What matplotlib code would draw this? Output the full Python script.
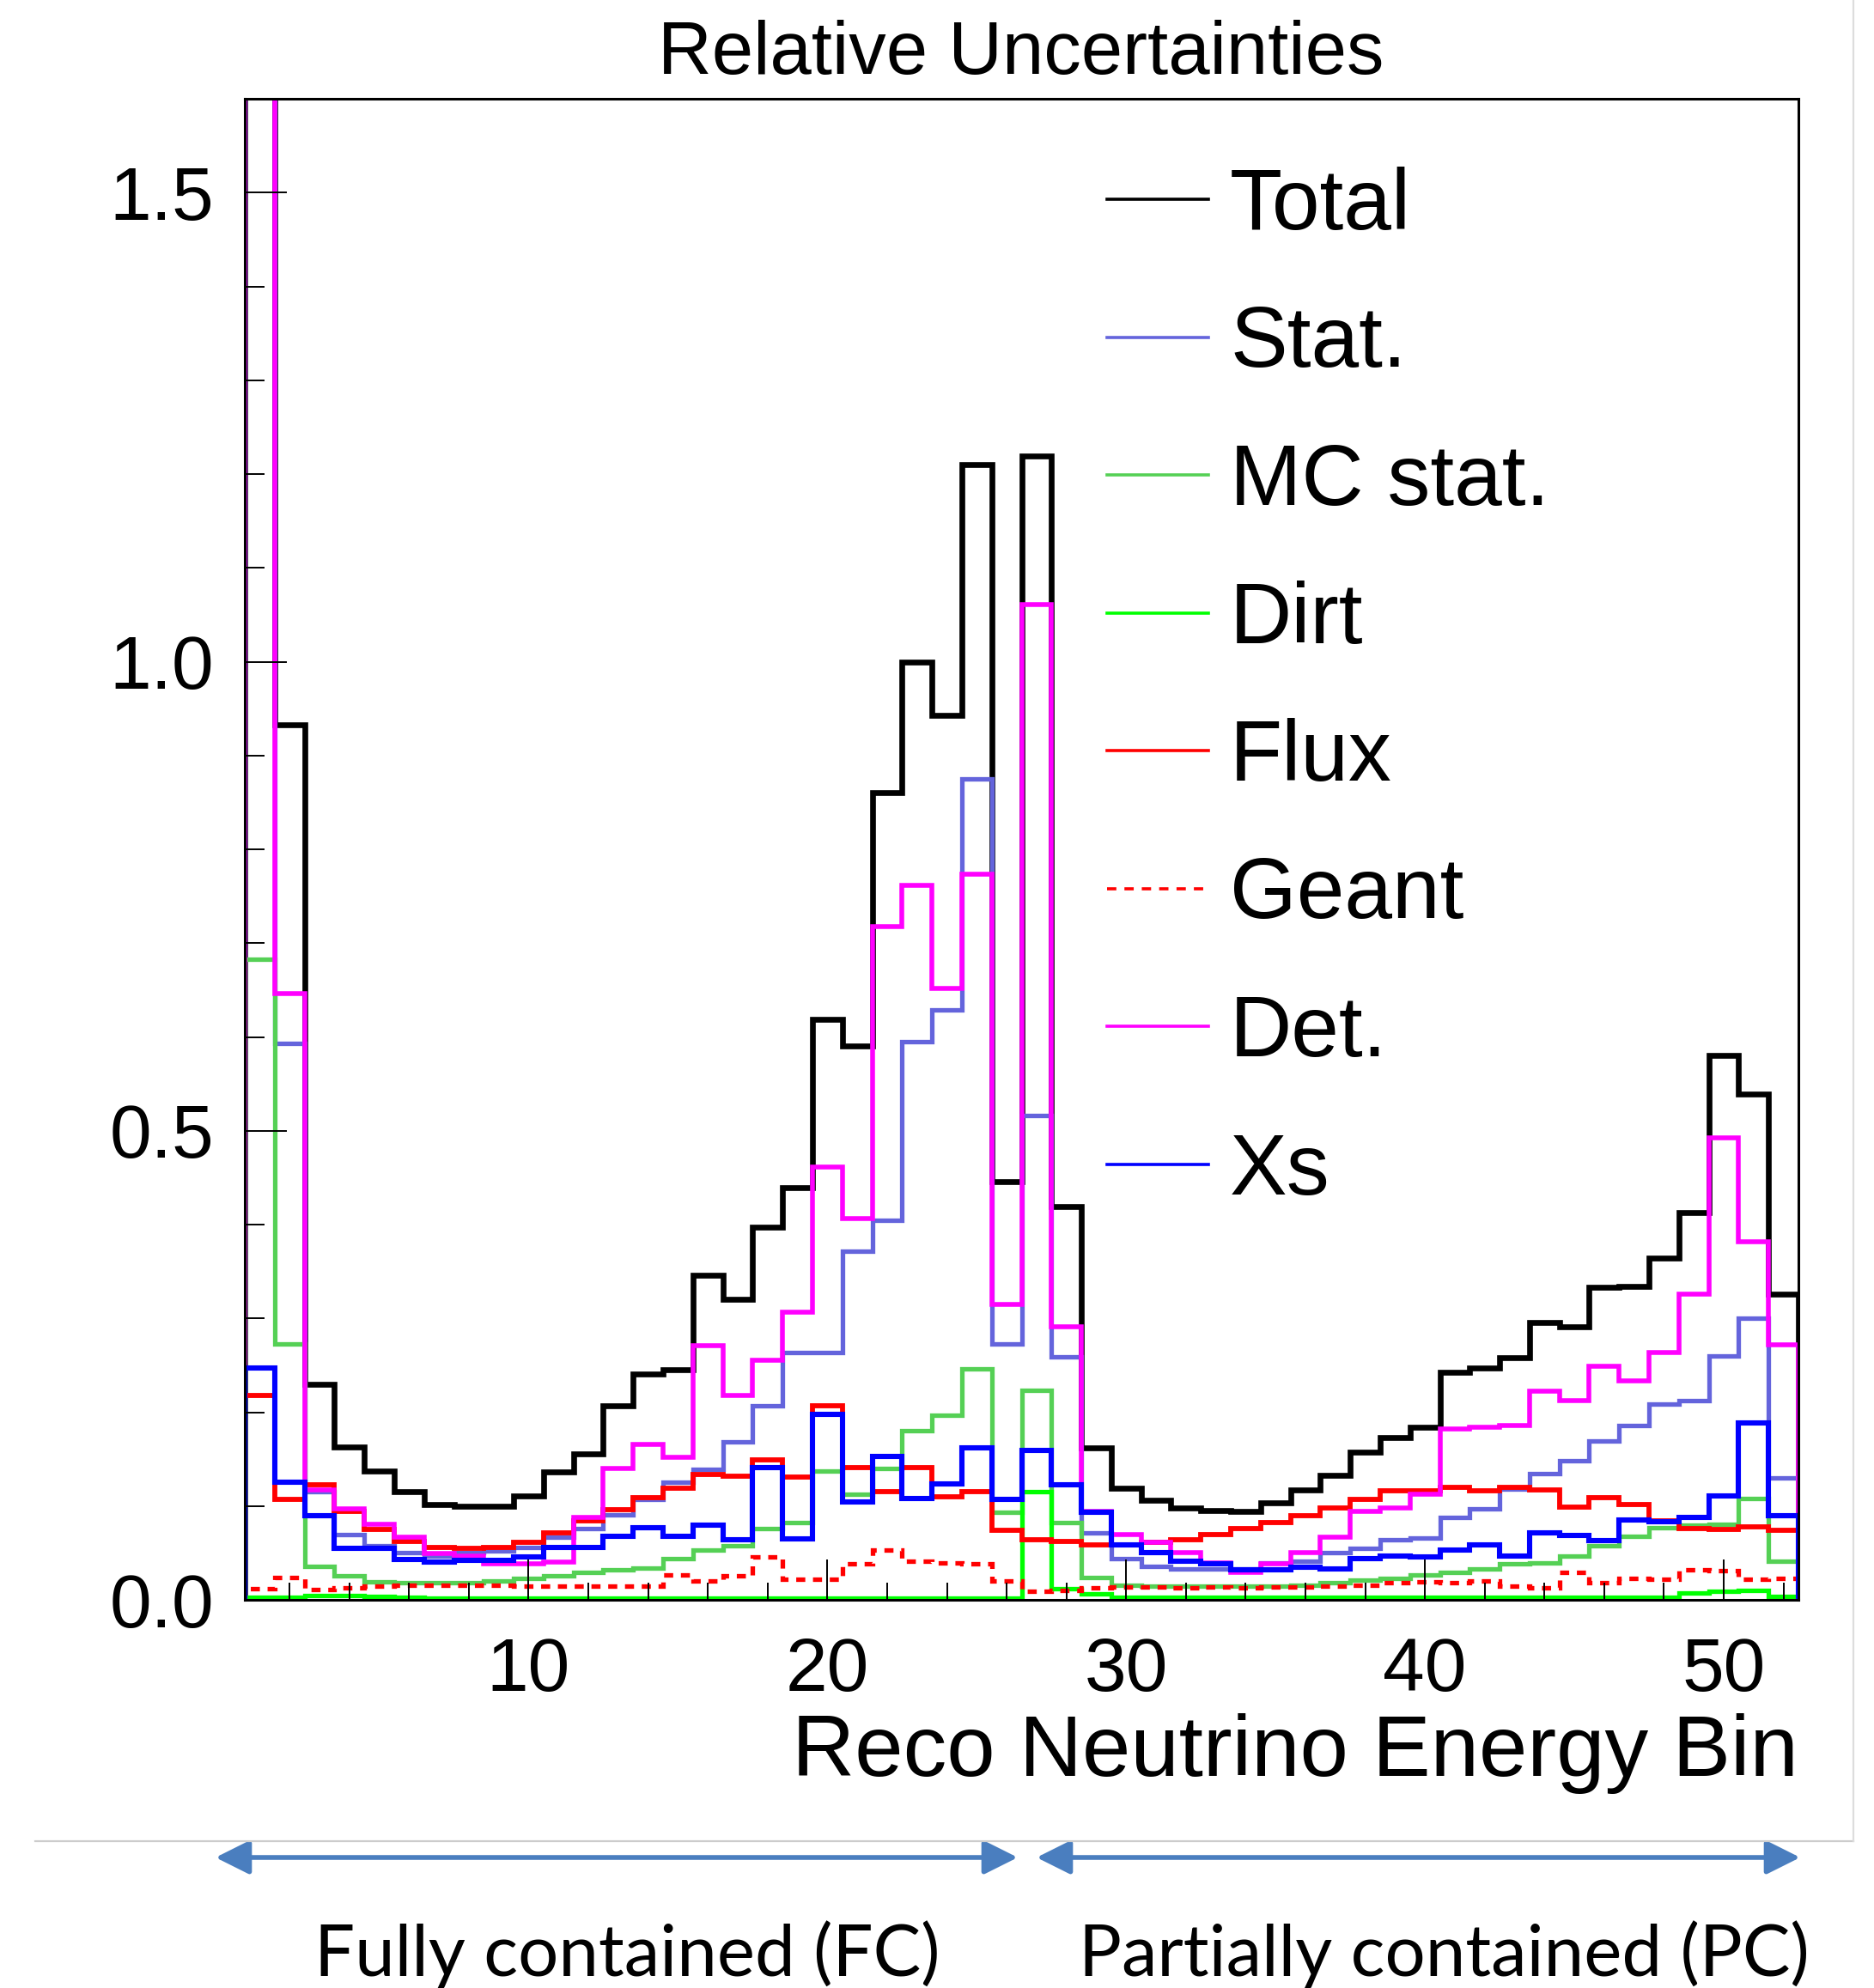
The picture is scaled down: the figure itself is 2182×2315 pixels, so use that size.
import matplotlib
matplotlib.use("Agg")
import matplotlib.pyplot as plt
import numpy as np
from matplotlib.ticker import MultipleLocator, FixedLocator
from matplotlib.lines import Line2D
from matplotlib.patches import FancyArrowPatch

# ---- data: relative uncertainty per reconstructed-energy bin (52 bins) ----
bin_edges = np.arange(0.5, 53.0, 1.0)

total = [2.10, 0.933, 0.230, 0.163, 0.137, 0.115, 0.102, 0.100, 0.100, 0.111,
         0.136, 0.156, 0.207, 0.241, 0.245, 0.346, 0.320, 0.397, 0.439, 0.619,
         0.590, 0.860, 1.000, 0.943, 1.210, 0.446, 1.219, 0.419, 0.162, 0.119,
         0.106, 0.098, 0.095, 0.094, 0.103, 0.117, 0.133, 0.157, 0.173, 0.184,
         0.243, 0.247, 0.258, 0.296, 0.291, 0.333, 0.334, 0.364, 0.413, 0.580,
         0.539, 0.326]

stat = [1.75, 0.593, 0.115, 0.070, 0.058, 0.050, 0.047, 0.050, 0.052, 0.056,
        0.067, 0.076, 0.091, 0.107, 0.125, 0.139, 0.168, 0.207, 0.264, 0.264,
        0.372, 0.405, 0.595, 0.629, 0.875, 0.273, 0.516, 0.259, 0.071, 0.044,
        0.036, 0.033, 0.033, 0.033, 0.039, 0.041, 0.050, 0.055, 0.064, 0.066,
        0.088, 0.097, 0.118, 0.135, 0.148, 0.169, 0.186, 0.209, 0.212, 0.260,
        0.300, 0.130]

mc_stat = [0.683, 0.273, 0.036, 0.026, 0.019, 0.018, 0.018, 0.018, 0.020, 0.023,
           0.026, 0.029, 0.032, 0.034, 0.044, 0.053, 0.058, 0.076, 0.082, 0.137,
           0.113, 0.140, 0.180, 0.197, 0.246, 0.093, 0.223, 0.082, 0.024, 0.016,
           0.015, 0.015, 0.015, 0.015, 0.015, 0.016, 0.018, 0.021, 0.023, 0.027,
           0.029, 0.033, 0.038, 0.039, 0.047, 0.058, 0.068, 0.077, 0.080, 0.081,
           0.108, 0.041]

dirt = [0.003, 0.003, 0.005, 0.005, 0.004, 0.003, 0.002, 0.002, 0.002, 0.002,
        0.002, 0.002, 0.002, 0.002, 0.002, 0.002, 0.002, 0.002, 0.002, 0.002,
        0.002, 0.002, 0.002, 0.002, 0.002, 0.002, 0.115, 0.012, 0.006, 0.003,
        0.003, 0.003, 0.003, 0.003, 0.003, 0.003, 0.003, 0.003, 0.003, 0.003,
        0.003, 0.003, 0.003, 0.003, 0.003, 0.003, 0.003, 0.003, 0.007, 0.009,
        0.010, 0.004]

flux = [0.218, 0.107, 0.123, 0.094, 0.075, 0.062, 0.056, 0.055, 0.056, 0.061,
        0.071, 0.084, 0.096, 0.109, 0.119, 0.134, 0.132, 0.149, 0.131, 0.207,
        0.141, 0.115, 0.141, 0.110, 0.115, 0.074, 0.064, 0.062, 0.059, 0.059,
        0.061, 0.064, 0.070, 0.076, 0.082, 0.090, 0.098, 0.107, 0.116, 0.116,
        0.120, 0.116, 0.120, 0.117, 0.099, 0.109, 0.102, 0.084, 0.076, 0.075,
        0.078, 0.074]

geant = [0.012, 0.024, 0.011, 0.013, 0.015, 0.016, 0.016, 0.016, 0.016, 0.015,
         0.015, 0.015, 0.015, 0.015, 0.027, 0.020, 0.026, 0.046, 0.022, 0.022,
         0.038, 0.053, 0.041, 0.039, 0.038, 0.020, 0.009, 0.010, 0.013, 0.014,
         0.014, 0.013, 0.014, 0.013, 0.014, 0.014, 0.015, 0.016, 0.018, 0.019,
         0.018, 0.020, 0.015, 0.013, 0.029, 0.018, 0.023, 0.022, 0.032, 0.031,
         0.022, 0.023]

det = [2.00, 0.646, 0.117, 0.097, 0.081, 0.067, 0.049, 0.047, 0.038, 0.038,
       0.040, 0.088, 0.140, 0.166, 0.152, 0.271, 0.218, 0.255, 0.307, 0.461,
       0.406, 0.718, 0.762, 0.652, 0.773, 0.315, 1.061, 0.291, 0.094, 0.070,
       0.061, 0.050, 0.039, 0.029, 0.038, 0.050, 0.067, 0.094, 0.098, 0.113,
       0.182, 0.184, 0.186, 0.222, 0.212, 0.249, 0.233, 0.264, 0.326, 0.492,
       0.382, 0.272]

xs = [0.247, 0.125, 0.090, 0.055, 0.055, 0.043, 0.040, 0.042, 0.042, 0.046,
      0.056, 0.056, 0.068, 0.077, 0.068, 0.080, 0.064, 0.141, 0.065, 0.198,
      0.104, 0.153, 0.108, 0.124, 0.162, 0.107, 0.159, 0.123, 0.093, 0.059,
      0.050, 0.041, 0.038, 0.032, 0.032, 0.035, 0.033, 0.044, 0.047, 0.046,
      0.053, 0.059, 0.047, 0.071, 0.069, 0.063, 0.085, 0.083, 0.088, 0.111,
      0.189, 0.090]

labels = ["Total", "Stat.", "MC stat.", "Dirt", "Flux", "Geant", "Det.", "Xs"]
colors = ["#000000", "#6464DC", "#55D055", "#00FF00", "#FF0000", "#FF0000",
          "#FF00FF", "#0000FF"]
dashed = [False, False, False, False, False, True, False, False]
widths = [2.4, 1.9, 1.9, 1.9, 2.1, 1.9, 2.0, 2.2]
values = [total, stat, mc_stat, dirt, flux, geant, det, xs]

x_ticks = [10, 20, 30, 40, 50]
y_ticks = [0.0, 0.5, 1.0, 1.5]

# ---- figure geometry (pixel layout) ----
W, H, DPI = 2182, 2315, 200
plt.rcParams["font.family"] = ["Liberation Sans", "DejaVu Sans"]
fig = plt.figure(figsize=(W / DPI, H / DPI), dpi=DPI)


def fx(px):
    return px / W


def fy(py):
    return 1 - py / H


ax = fig.add_axes([fx(285), fy(1863), (2094 - 285) / W, (1863 - 115) / H])

for vals, col, dsh, lw in zip(values, colors, dashed, widths):
    ls = (0, (2.0, 1.7)) if dsh else "-"
    ax.stairs(vals, bin_edges, baseline=0, color=col, linestyle=ls,
              linewidth=lw, fill=False)

ax.set_xlim(0.5, 52.5)
ax.set_ylim(0, 1.6)

ax.xaxis.set_major_locator(FixedLocator(x_ticks))
ax.xaxis.set_minor_locator(MultipleLocator(2))
ax.yaxis.set_major_locator(FixedLocator(y_ticks))
ax.yaxis.set_minor_locator(MultipleLocator(0.1))
ax.set_yticklabels([f"{v:.1f}" for v in y_ticks])
ax.set_xticklabels([str(v) for v in x_ticks])

ax.tick_params(axis="both", which="both", direction="in", width=0.7,
               top=False, right=False, labelsize=31.5, color="black")
ax.tick_params(axis="y", which="major", length=17.5, pad=13)
ax.tick_params(axis="y", which="minor", length=8.3)
ax.tick_params(axis="x", which="major", length=17, pad=15.5)
ax.tick_params(axis="x", which="minor", length=7.2)
for sp in ax.spines.values():
    sp.set_linewidth(1.1)

# title and axis label
fig.text(fx(1189), fy(86), "Relative Uncertainties", ha="center",
         va="baseline", fontsize=31.3)
fig.text(fx(2094), fy(2068), "Reco Neutrino Energy Bin", ha="right",
         va="baseline", fontsize=36.5)

# legend
handles = []
for c, dsh in zip(colors, dashed):
    if dsh:
        handles.append(Line2D([], [], color=c, linewidth=1.3,
                              linestyle=(0, (3.0, 2.6))))
    else:
        handles.append(Line2D([], [], color=c, linewidth=1.3))
leg = ax.legend(handles, labels, loc="upper left",
                bbox_to_anchor=(fx(1289), fy(194)),
                bbox_transform=fig.transFigure, frameon=False, fontsize=36,
                handlelength=1.18, handletextpad=0.25, labelspacing=0.665,
                borderpad=0, borderaxespad=0)

# panel border and region arrows below the plot
fig.add_artist(Line2D([fx(41), fx(2158)], [fy(2144), fy(2144)],
                      transform=fig.transFigure, color="#cccccc", lw=0.8))
fig.add_artist(Line2D([fx(2158), fx(2158)], [fy(0), fy(2144)],
                      transform=fig.transFigure, color="#dddddd", lw=0.8))

arrow_color = "#4A7EBF"
for x0, x1 in [(251, 1185), (1207, 2096)]:
    arr = FancyArrowPatch((fx(x0), fy(2163)), (fx(x1), fy(2163)),
                          transform=fig.transFigure,
                          arrowstyle="<|-|>,head_length=0.4,head_width=0.2",
                          mutation_scale=30, color=arrow_color, lw=2.0,
                          shrinkA=0, shrinkB=0)
    fig.add_artist(arr)

fig.text(fx(730), fy(2302), "Fully contained (FC)", ha="center",
         va="baseline", fontsize=30, family=["Lato", "DejaVu Sans"])
fig.text(fx(1681), fy(2302), "Partially contained (PC)", ha="center",
         va="baseline", fontsize=30, family=["Lato", "DejaVu Sans"])

fig.savefig("out.png", dpi=DPI)
